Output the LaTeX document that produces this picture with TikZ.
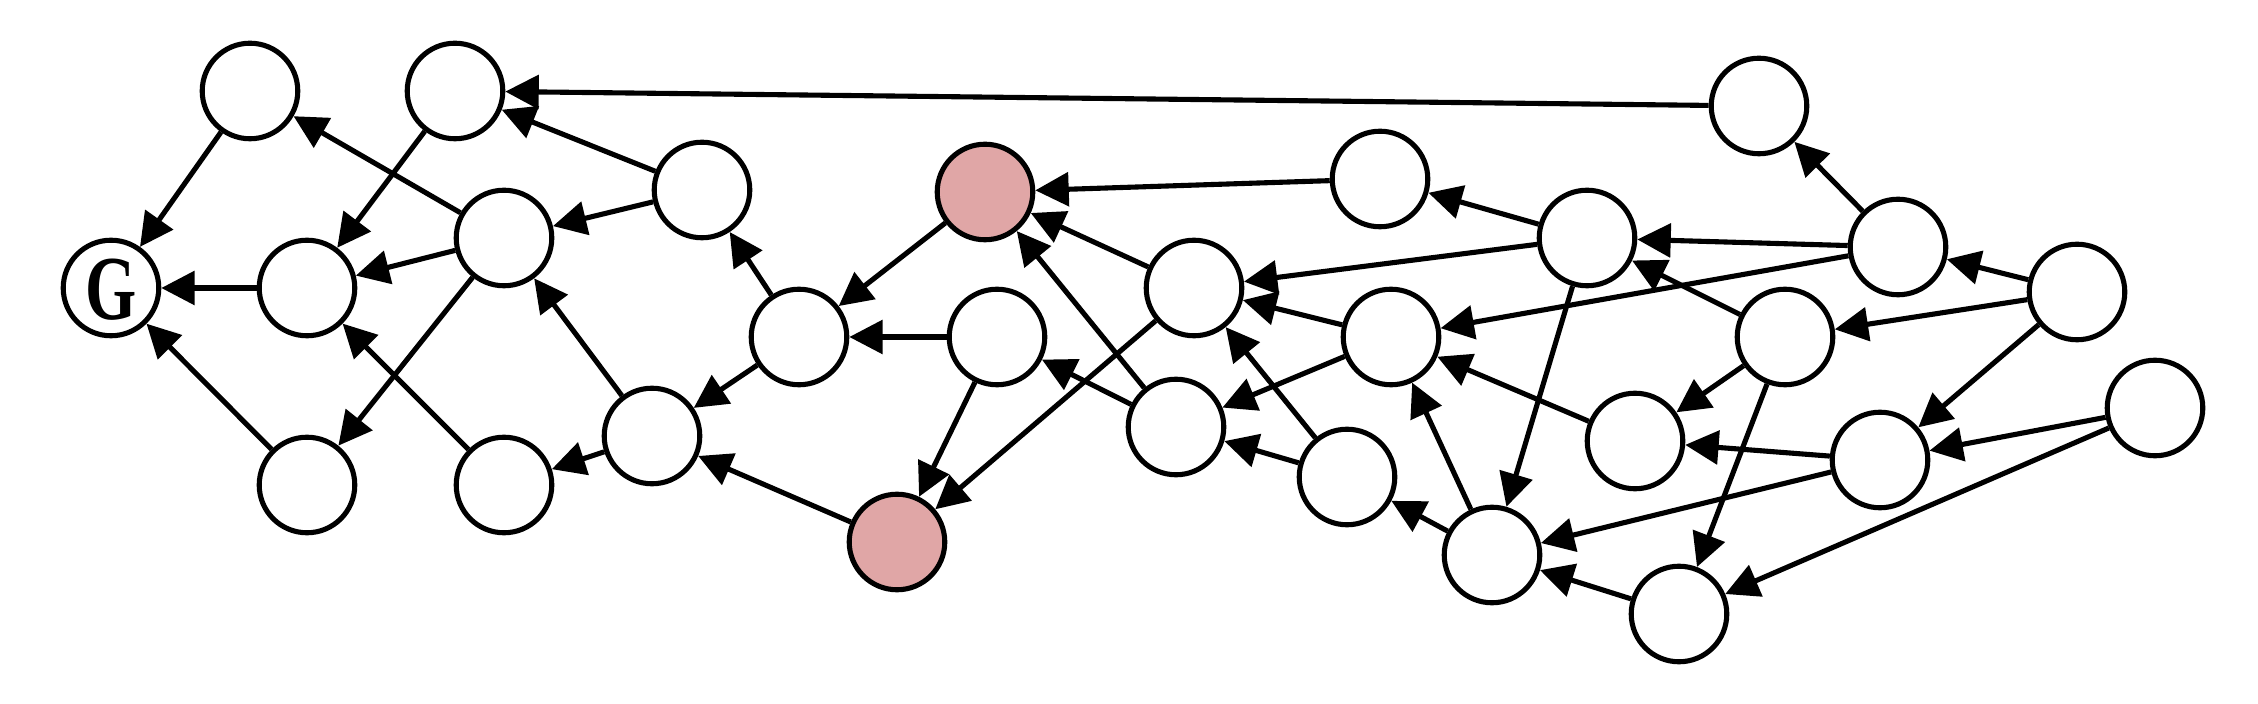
\documentclass[tikz,border=0pt]{standalone}
\usepackage{fontspec}
\setmainfont{Liberation Serif}
\usetikzlibrary{arrows.meta}
\definecolor{hl}{RGB}{224,166,166}
\tikzset{
  vtx/.style={circle,draw=black,line width=1.45pt,fill=white,minimum size=0.955cm,inner sep=0pt},
  red/.style={vtx,fill=hl},
  edge/.style={line width=1.45pt,-{Triangle[length=9.5pt,width=9.5pt]}},
  glabel/.style={font=\fontsize{26pt}{26pt}\selectfont\bfseries}
}
\begin{document}
\begin{tikzpicture}[x=0.01cm,y=-0.01cm]
\useasboundingbox (0,0) rectangle (2258,704);
\node[vtx] (G) at (111,288) {};
\node[glabel,inner sep=0pt] (Gt) at (111,290) {\scalebox{0.72}[1]{G}};
\node[vtx] (A1) at (250,91) {};
\node[vtx] (A2) at (307,288) {};
\node[vtx] (A3) at (307,485) {};
\node[vtx] (B1) at (455,91) {};
\node[vtx] (B2) at (504,238) {};
\node[vtx] (B3) at (504,485) {};
\node[vtx] (C1) at (702,190) {};
\node[vtx] (C2) at (652,436) {};
\node[vtx] (D1) at (799,337) {};
\node[red] (R1) at (985,192) {};
\node[vtx] (E1) at (997,337) {};
\node[red] (R2) at (897,542) {};
\node[vtx] (F1) at (1194,288) {};
\node[vtx] (F2) at (1176,427) {};
\node[vtx] (H1) at (1380,179) {};
\node[vtx] (H2) at (1391,337) {};
\node[vtx] (H3) at (1347,477) {};
\node[vtx] (I1) at (1587,238) {};
\node[vtx] (I2) at (1492,555) {};
\node[vtx] (J1) at (1635,441) {};
\node[vtx] (J2) at (1679,614) {};
\node[vtx] (K1) at (1759,106) {};
\node[vtx] (K2) at (1785,337) {};
\node[vtx] (L1) at (1898,247) {};
\node[vtx] (L2) at (1880,460) {};
\node[vtx] (M1) at (2077,292) {};
\node[vtx] (M2) at (2155,408) {};
\foreach \s/\t in {A1/G,A2/G,A3/G,B1/A2,B2/A1,B2/A2,B2/A3,B3/A2,C1/B1,C1/B2,C2/B2,C2/B3,
  D1/C1,D1/C2,R1/D1,E1/D1,E1/R2,R2/C2,F1/R1,F1/R2,F2/R1,F2/E1,K1/B1,H1/R1,H2/F1,H2/F2,
  H3/F1,H3/F2,I1/H1,I1/F1,I1/I2,I2/H2,I2/H3,J1/H2,J2/I2,K2/I1,K2/J1,K2/J2,L1/K1,L1/I1,
  L1/H2,L2/J1,L2/I2,M1/L1,M1/K2,M1/L2,M2/L2,M2/J2}
  \draw[edge] (\s) -- (\t);
\end{tikzpicture}
\end{document}
